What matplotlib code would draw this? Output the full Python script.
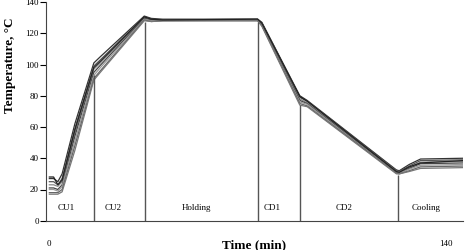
import matplotlib
matplotlib.use("Agg")
import matplotlib.pyplot as plt

plt.rcParams["font.family"] = ["Liberation Serif", "DejaVu Serif"]

# time points (min) shared by all runs
time = [0, 1.5, 3, 4.5, 9, 15.7, 18, 33.5, 36, 40, 73.5, 75, 88.4, 91, 122.5, 123.5, 127, 131, 146]

# temperature runs (deg C)
run1 = [27, 27, 25, 30, 62, 101, 105, 131, 129.5, 129, 129, 127, 80, 77, 32.5, 32, 36, 39.5, 40]
run2 = [25, 25, 23, 27, 59, 99, 103, 130.5, 129, 128.5, 129, 126.5, 79, 76.5, 32, 31.5, 35, 38.5, 39]
run3 = [23, 23, 22, 25, 56, 97, 101, 130, 128.5, 128.5, 128.5, 126, 78, 75.5, 31.5, 31, 34, 37.5, 38]
run4 = [21, 21, 20, 23, 54, 95, 99.5, 129.5, 128.5, 128.5, 128.5, 125.5, 77, 75, 31, 30.5, 33.5, 36.5, 37]
run5 = [20, 20, 19, 22, 51, 93, 98, 129, 128, 128, 128.5, 125, 76, 74.5, 30.5, 30.5, 33, 35.5, 36]
run6 = [18, 18, 18, 20, 48, 91, 96, 128.5, 127.5, 128, 128, 125, 75, 73.5, 30.5, 30, 32, 34.5, 35]
run7 = [17, 17, 17, 18.5, 45, 90, 95, 128, 127.5, 128, 128, 124.5, 74, 73, 30, 30, 31.5, 33.5, 34]
run8 = [28, 28, 23, 26, 58, 98, 102, 130.5, 129, 128.5, 129, 126.5, 79.5, 76.5, 31.5, 31, 34.5, 37, 38.5]
runs = [run1, run2, run3, run4, run5, run6, run7, run8]
shades = ["#333333", "#555555", "#888888", "#444444", "#999999", "#666666", "#777777", "#222222"]

# stage boundaries and labels
bounds = [15.7, 33.8, 73.5, 88.4, 123]
bound_tops = [93, 127, 127, 74, 29]
stages = ["CU1", "CU2", "Holding", "CD1", "CD2", "Cooling"]
stage_x = [6, 22.5, 52, 78.5, 104, 133]

fig = plt.figure(figsize=(4.66, 2.5), dpi=100)
ax = fig.add_axes([0.098, 0.117, 0.8956, 0.875])

for r, c in zip(runs, shades):
    ax.plot(time, r, color=c, lw=0.9)

ax.vlines(bounds, 0, bound_tops, color="#555555", lw=1)

for s, x in zip(stages, stage_x):
    ax.text(x, 8, s, ha="center", va="center", fontsize=6.5)

ax.set_xlim(-1.3, 146)
ax.set_ylim(0, 140)
ax.set_yticks(range(0, 141, 20))
ax.set_xticks([0, 140])
ax.tick_params(axis="y", labelsize=6.5, length=4, width=0.8, pad=1)
ax.tick_params(axis="x", labelsize=6.5, length=0, pad=14)
ax.spines["top"].set_visible(False)
ax.spines["right"].set_visible(False)
ax.spines["left"].set_color("#444444")
ax.spines["bottom"].set_color("#444444")

ax.text(-0.085, 0.71, "Temperature, °C", rotation=90, transform=ax.transAxes,
        ha="center", va="center", fontsize=9.5, fontweight="bold")
ax.text(0.5, -0.11, "Time (min)", transform=ax.transAxes,
        ha="center", va="center", fontsize=9.5, fontweight="bold")

fig.savefig("out.png", dpi=100)
